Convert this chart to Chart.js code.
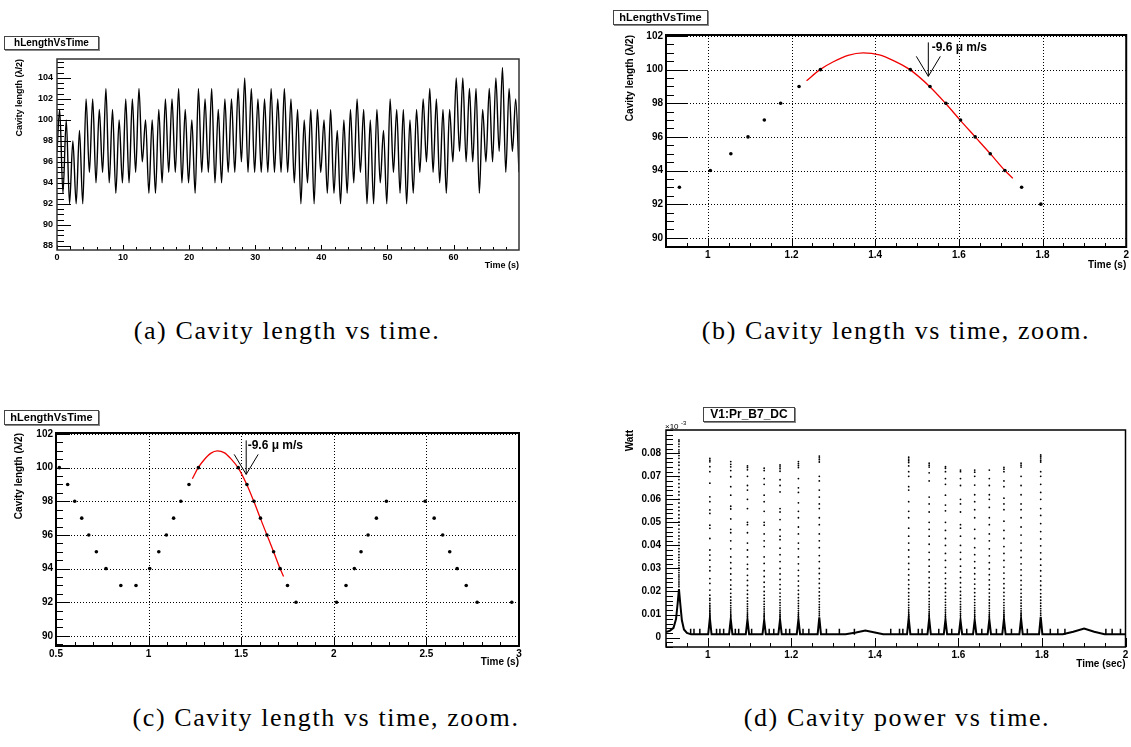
<!DOCTYPE html>
<html>
<head>
<meta charset="utf-8">
<script src="https://cdn.jsdelivr.net/npm/chart.js@4.4.1/dist/chart.umd.min.js"></script>
<style>
  html, body { margin: 0; padding: 0; background: #fff; overflow: hidden; width: 1131px; height: 747px; }
  canvas { position: absolute; }
  .tbox { position: absolute; box-sizing: border-box; border: 1px solid #444; box-shadow: 1px 1px 0 #888;
          background: #fff; color: #000; text-align: center; font-weight: bold;
          font-family: "Liberation Sans", Arial, sans-serif; z-index: 2; }
  .cap { position: absolute; width: 520px; margin-left: -260px; text-align: center; color: #000;
         font-family: "Liberation Serif", "Times New Roman", serif; font-size: 26px; letter-spacing: 1.6px;
         line-height: 30px; }
</style>
</head>
<body>
<canvas id="cA" width="560" height="250" style="left:0px;top:30px"></canvas>
<canvas id="cB" width="531" height="290" style="left:600px;top:0px"></canvas>
<canvas id="cC" width="560" height="290" style="left:0px;top:400px"></canvas>
<canvas id="cD" width="531" height="290" style="left:600px;top:400px"></canvas>

<div class="tbox" style="left:4px;top:36px;width:95px;height:14px;font-size:10px;line-height:12px">hLengthVsTime</div>
<div class="tbox" style="left:613px;top:10px;width:95px;height:15px;font-size:11px;line-height:13px">hLengthVsTime</div>
<div class="tbox" style="left:4px;top:410px;width:95px;height:15px;font-size:11px;line-height:13px">hLengthVsTime</div>
<div class="tbox" style="left:703px;top:407px;width:92px;height:15px;font-size:12px;line-height:13px">V1:Pr_B7_DC</div>

<div class="cap" style="left:287px;top:316px">(a) Cavity length vs time.</div>
<div class="cap" style="left:896px;top:316px">(b) Cavity length vs time, zoom.</div>
<div class="cap" style="left:326px;top:703px">(c) Cavity length vs time, zoom.</div>
<div class="cap" style="left:897px;top:703px">(d) Cavity power vs time.</div>

<script>
// (a) whole run: one fringe oscillation per second, peak then trough
const aStartTime = 0.0;
const aStartValue = 97;
const aFirstPeak = 0.4;
const aPeriod = 1.0;
const aPeaks = [
  101, 100, 98, 99, 102, 102, 101, 103, 101, 100,
  102, 102, 103, 100, 100, 101, 102, 102, 103, 101,
  100, 103, 102, 103, 101, 102, 102, 103, 104, 103,
  102, 102, 103, 102, 103, 102, 101, 100, 101, 101,
  100, 101, 99, 100, 101, 102, 101, 100, 101, 99,
  102, 101, 101, 100, 101, 102, 103, 102, 101, 101,
  104, 104, 103, 103, 101, 103, 104, 105, 103, 102
];
const aTroughs = [
  93, 92, 92, 92, 95, 94, 95, 94, 93, 94,
  94, 95, 96, 93, 93, 94, 95, 95, 94, 94,
  93, 95, 95, 94, 94, 95, 95, 96, 95, 95,
  95, 95, 95, 95, 95, 94, 92, 94, 92, 95,
  93, 93, 92, 93, 94, 95, 92, 92, 94, 92,
  95, 93, 92, 93, 95, 96, 95, 94, 93, 96,
  97, 96, 96, 93, 96, 96, 97, 95, 97, 95
];

// (b) and (c) zoom: measured fringe points
const lenTime = [0.518, 0.563, 0.601, 0.639, 0.677, 0.718, 0.770, 0.850, 0.932, 1.006,
  1.055, 1.096, 1.135, 1.174, 1.218, 1.269, 1.484, 1.531, 1.569, 1.604,
  1.639, 1.675, 1.710, 1.750, 1.796, 2.015, 2.066, 2.111, 2.147, 2.185,
  2.230, 2.284, 2.493, 2.542, 2.588, 2.626, 2.666, 2.715, 2.774, 2.961];
const lenValue = [100, 99, 98, 97, 96, 95, 94, 93, 93, 94,
  95, 96, 97, 98, 99, 100, 100, 99, 98, 97,
  96, 95, 94, 93, 92, 92, 93, 94, 95, 96,
  97, 98, 98, 97, 96, 95, 94, 93, 92, 92];

// red fit curve
const fitTime = [1.236, 1.268, 1.300, 1.335, 1.371, 1.410, 1.445, 1.483, 1.530, 1.568, 1.603, 1.639, 1.675, 1.710, 1.729];
const fitValue = [99.34, 100.0, 100.47, 100.85, 101.0, 100.88, 100.52, 100.0, 99.0, 98.0, 97.0, 96.0, 95.0, 94.0, 93.53];

const arrowTime = 1.527;
const arrowTip = 99.6;
const arrowTop = 101.62;
const arrowLabelTime = 1.535;
const arrowLabelValue = 101.3;
const arrowLabel = '-9.6 \u03bc m/s';

// (d) cavity power (units of the axis labels, x10^-3 W)
const dBaseTime = [0.900, 0.910, 0.918, 0.924, 0.928, 0.931, 0.934, 0.938, 0.943, 0.950, 0.960,
  1.001, 1.005, 1.009, 1.051, 1.055, 1.059, 1.091, 1.095, 1.099, 1.131, 1.135, 1.139,
  1.169, 1.173, 1.177, 1.213, 1.217, 1.221, 1.263, 1.267, 1.271,
  1.330, 1.355, 1.377, 1.400, 1.420,
  1.477, 1.481, 1.485, 1.526, 1.530, 1.534, 1.565, 1.569, 1.573, 1.601, 1.605, 1.609,
  1.635, 1.639, 1.643, 1.670, 1.674, 1.678, 1.705, 1.709, 1.713, 1.746, 1.750, 1.754,
  1.793, 1.797, 1.801, 1.850, 1.875, 1.901, 1.925, 1.950, 2.000];
const dBaseValue = [0.0024, 0.0030, 0.0042, 0.0080, 0.0150, 0.0210, 0.0150, 0.0075, 0.0035, 0.0020, 0.0014,
  0.0014, 0.0085, 0.0014, 0.0014, 0.0080, 0.0014, 0.0014, 0.0078, 0.0014, 0.0014, 0.0075, 0.0014,
  0.0014, 0.0078, 0.0014, 0.0014, 0.0080, 0.0014, 0.0014, 0.0088, 0.0014,
  0.0014, 0.0022, 0.0031, 0.0022, 0.0014,
  0.0014, 0.0085, 0.0014, 0.0014, 0.0082, 0.0014, 0.0014, 0.0078, 0.0014, 0.0014, 0.0076, 0.0014,
  0.0014, 0.0076, 0.0014, 0.0014, 0.0078, 0.0014, 0.0014, 0.0080, 0.0014, 0.0014, 0.0082, 0.0014,
  0.0014, 0.0090, 0.0014, 0.0014, 0.0025, 0.0039, 0.0025, 0.0014, 0.0014];
const dBlipTime = [0.959, 0.967, 0.981, 1.021, 1.029, 1.038, 1.066, 1.074, 1.105, 1.147, 1.158,
  1.187, 1.196, 1.228, 1.242, 1.284, 1.315, 1.351, 1.438, 1.459, 1.467, 1.504, 1.513,
  1.553, 1.584, 1.620, 1.656, 1.691, 1.727, 1.765, 1.820, 1.838, 1.855, 1.953, 1.968, 1.988];
const dBlipValue = 0.0025;
const dSpikeTime = [0.931, 1.005, 1.055, 1.095, 1.135, 1.173, 1.217, 1.267,
  1.481, 1.530, 1.569, 1.605, 1.639, 1.674, 1.709, 1.750, 1.797];
const dDots = [
  [0.0858, 0.0851, 0.0840, 0.0829, 0.0815, 0.0806, 0.0790, 0.0778, 0.0761, 0.0748, 0.0730, 0.0716, 0.0699, 0.0686,
   0.0668, 0.0652, 0.0633, 0.0619, 0.0600, 0.0584, 0.0566, 0.0551, 0.0533, 0.0518, 0.0502, 0.0488, 0.0471, 0.0457,
   0.0441, 0.0428, 0.0413, 0.0400, 0.0386, 0.0373, 0.0360, 0.0348, 0.0336, 0.0325, 0.0313, 0.0302, 0.0292, 0.0282,
   0.0272, 0.0263, 0.0254, 0.0245, 0.0237, 0.0229, 0.0221],
  [0.0778, 0.0770, 0.0763, 0.0742, 0.0720, 0.0670, 0.0611, 0.0590, 0.0554, 0.0539, 0.0488, 0.0474, 0.0430, 0.0380,
   0.0358, 0.0336, 0.0307, 0.0290, 0.0256, 0.0235, 0.0206, 0.0184, 0.0170, 0.0162, 0.0148, 0.0140, 0.0133, 0.0126,
   0.0119, 0.0112, 0.0104, 0.0097, 0.0090],
  [0.0764, 0.0752, 0.0741, 0.0725, 0.0698, 0.0655, 0.0618, 0.0570, 0.0558, 0.0515, 0.0470, 0.0455, 0.0420, 0.0385,
   0.0350, 0.0325, 0.0300, 0.0276, 0.0250, 0.0228, 0.0210, 0.0192, 0.0176, 0.0162, 0.0150, 0.0139, 0.0129, 0.0120,
   0.0111, 0.0102, 0.0094],
  [0.0745, 0.0738, 0.0728, 0.0700, 0.0660, 0.0640, 0.0600, 0.0560, 0.0500, 0.0490, 0.0455, 0.0410, 0.0380, 0.0350,
   0.0318, 0.0298, 0.0270, 0.0248, 0.0226, 0.0205, 0.0188, 0.0172, 0.0158, 0.0146, 0.0135, 0.0125, 0.0116, 0.0107,
   0.0099, 0.0092],
  [0.0735, 0.0725, 0.0690, 0.0665, 0.0618, 0.0590, 0.0548, 0.0500, 0.0488, 0.0450, 0.0420, 0.0395, 0.0350, 0.0322,
   0.0290, 0.0265, 0.0240, 0.0220, 0.0200, 0.0184, 0.0170, 0.0157, 0.0145, 0.0134, 0.0124, 0.0115, 0.0106, 0.0098,
   0.0091],
  [0.0749, 0.0741, 0.0733, 0.0722, 0.0685, 0.0660, 0.0632, 0.0560, 0.0545, 0.0512, 0.0468, 0.0440, 0.0425, 0.0388,
   0.0360, 0.0330, 0.0300, 0.0276, 0.0252, 0.0230, 0.0210, 0.0193, 0.0178, 0.0164, 0.0151, 0.0140, 0.0129, 0.0119,
   0.0110, 0.0101, 0.0093],
  [0.0764, 0.0755, 0.0746, 0.0738, 0.0690, 0.0650, 0.0630, 0.0585, 0.0548, 0.0520, 0.0480, 0.0450, 0.0410, 0.0385,
   0.0350, 0.0320, 0.0292, 0.0268, 0.0245, 0.0224, 0.0205, 0.0188, 0.0173, 0.0160, 0.0148, 0.0137, 0.0127, 0.0117,
   0.0108, 0.0100, 0.0092],
  [0.0788, 0.0780, 0.0772, 0.0762, 0.0700, 0.0680, 0.0640, 0.0610, 0.0580, 0.0560, 0.0520, 0.0490, 0.0450, 0.0420,
   0.0390, 0.0356, 0.0330, 0.0300, 0.0278, 0.0255, 0.0235, 0.0215, 0.0198, 0.0182, 0.0168, 0.0155, 0.0143, 0.0132,
   0.0122, 0.0112, 0.0103, 0.0095],
  [0.0783, 0.0775, 0.0768, 0.0760, 0.0745, 0.0720, 0.0700, 0.0655, 0.0640, 0.0590, 0.0548, 0.0520, 0.0475, 0.0440,
   0.0410, 0.0380, 0.0350, 0.0322, 0.0296, 0.0272, 0.0250, 0.0230, 0.0212, 0.0195, 0.0180, 0.0166, 0.0153, 0.0141,
   0.0130, 0.0120, 0.0110, 0.0101, 0.0093],
  [0.0757, 0.0748, 0.0740, 0.0715, 0.0680, 0.0610, 0.0580, 0.0545, 0.0500, 0.0470, 0.0440, 0.0405, 0.0370, 0.0338,
   0.0310, 0.0285, 0.0260, 0.0238, 0.0218, 0.0200, 0.0184, 0.0169, 0.0156, 0.0144, 0.0133, 0.0122, 0.0112, 0.0103,
   0.0095],
  [0.0742, 0.0735, 0.0720, 0.0690, 0.0665, 0.0618, 0.0575, 0.0550, 0.0500, 0.0465, 0.0430, 0.0400, 0.0365, 0.0335,
   0.0305, 0.0280, 0.0256, 0.0234, 0.0214, 0.0196, 0.0180, 0.0166, 0.0153, 0.0141, 0.0130, 0.0120, 0.0110, 0.0101,
   0.0093],
  [0.0727, 0.0720, 0.0690, 0.0660, 0.0600, 0.0580, 0.0545, 0.0490, 0.0475, 0.0440, 0.0400, 0.0370, 0.0340, 0.0310,
   0.0285, 0.0260, 0.0238, 0.0218, 0.0200, 0.0184, 0.0170, 0.0156, 0.0144, 0.0133, 0.0123, 0.0113, 0.0104, 0.0096],
  [0.0727, 0.0718, 0.0700, 0.0662, 0.0620, 0.0590, 0.0555, 0.0520, 0.0470, 0.0430, 0.0390, 0.0360, 0.0330, 0.0302,
   0.0277, 0.0254, 0.0232, 0.0212, 0.0195, 0.0179, 0.0165, 0.0152, 0.0140, 0.0129, 0.0119, 0.0110, 0.0101, 0.0093],
  [0.0727, 0.0690, 0.0660, 0.0620, 0.0600, 0.0565, 0.0520, 0.0490, 0.0450, 0.0420, 0.0385, 0.0355, 0.0325, 0.0298,
   0.0273, 0.0250, 0.0229, 0.0210, 0.0193, 0.0177, 0.0163, 0.0150, 0.0138, 0.0127, 0.0117, 0.0108, 0.0099, 0.0091],
  [0.0739, 0.0731, 0.0720, 0.0680, 0.0655, 0.0605, 0.0580, 0.0555, 0.0505, 0.0465, 0.0430, 0.0395, 0.0365, 0.0335,
   0.0306, 0.0280, 0.0256, 0.0234, 0.0214, 0.0196, 0.0180, 0.0165, 0.0152, 0.0140, 0.0129, 0.0119, 0.0110, 0.0101,
   0.0093],
  [0.0757, 0.0748, 0.0740, 0.0700, 0.0660, 0.0620, 0.0580, 0.0555, 0.0520, 0.0480, 0.0445, 0.0410, 0.0378, 0.0348,
   0.0320, 0.0294, 0.0270, 0.0248, 0.0228, 0.0209, 0.0192, 0.0176, 0.0162, 0.0149, 0.0137, 0.0126, 0.0116, 0.0106,
   0.0097],
  [0.0793, 0.0786, 0.0779, 0.0770, 0.0762, 0.0720, 0.0700, 0.0665, 0.0630, 0.0600, 0.0560, 0.0530, 0.0495, 0.0460,
   0.0428, 0.0398, 0.0368, 0.0340, 0.0314, 0.0290, 0.0267, 0.0246, 0.0226, 0.0208, 0.0191, 0.0176, 0.0162, 0.0149,
   0.0137, 0.0126, 0.0116, 0.0106, 0.0097]
];

// tick labels
const aXTicks = [0, 10, 20, 30, 40, 50, 60];
const aYTicks = [88, 90, 92, 94, 96, 98, 100, 102, 104];
const bXTicks = [1, 1.2, 1.4, 1.6, 1.8, 2];
const lenYTicks = [90, 92, 94, 96, 98, 100, 102];
const cXTicks = [0.5, 1, 1.5, 2, 2.5, 3];
const dYTicks = [0, 0.01, 0.02, 0.03, 0.04, 0.05, 0.06, 0.07, 0.08];

const FONT = '"Liberation Sans", Arial, sans-serif';
const cfgs = {};

function minorTicks(min, max, step) {
  const out = [];
  for (let i = Math.ceil(min / step - 1e-6); i * step <= max + 1e-9; i++) out.push(Math.round(i * step * 1e6) / 1e6);
  return out;
}

// ROOT style frame: ticks inside, optional dotted grid, extra labels
const rootAxes = {
  id: 'rootAxes',
  beforeDatasetsDraw(chart) {
    const c = cfgs[chart.canvas.id];
    if (!c.grid) return;
    const { ctx, chartArea: a, scales: { x, y } } = chart;
    ctx.save();
    ctx.strokeStyle = '#000';
    ctx.lineWidth = 1;
    ctx.setLineDash([1, 2]);
    ctx.beginPath();
    c.xTicks.forEach(v => {
      const px = Math.round(x.getPixelForValue(v)) + 0.5;
      if (px > a.left + 2 && px < a.right - 2) { ctx.moveTo(px, a.top); ctx.lineTo(px, a.bottom); }
    });
    c.yTicks.forEach(v => {
      const py = Math.round(y.getPixelForValue(v)) + 0.5;
      if (py > a.top + 1 && py < a.bottom - 2) { ctx.moveTo(a.left, py); ctx.lineTo(a.right, py); }
    });
    ctx.stroke();
    ctx.restore();
  },
  afterDatasetsDraw(chart) {
    const c = cfgs[chart.canvas.id];
    const { ctx, chartArea: a, scales: { x, y } } = chart;
    ctx.save();
    ctx.strokeStyle = '#000';
    ctx.fillStyle = '#000';
    ctx.lineWidth = 1;
    ctx.beginPath();
    minorTicks(c.xMin, c.xMax, c.xMinor).forEach(v => {
      const px = Math.round(x.getPixelForValue(v)) + 0.5;
      ctx.moveTo(px, a.bottom); ctx.lineTo(px, a.bottom - c.xTickLen[1]);
    });
    c.xTicks.forEach(v => {
      const px = Math.round(x.getPixelForValue(v)) + 0.5;
      ctx.moveTo(px, a.bottom); ctx.lineTo(px, a.bottom - c.xTickLen[0]);
    });
    minorTicks(c.yMin, c.yMax, c.yMinor).forEach(v => {
      const py = Math.round(y.getPixelForValue(v)) + 0.5;
      ctx.moveTo(a.left, py); ctx.lineTo(a.left + c.yTickLen[1], py);
    });
    c.yTicks.forEach(v => {
      const py = Math.round(y.getPixelForValue(v)) + 0.5;
      ctx.moveTo(a.left, py); ctx.lineTo(a.left + c.yTickLen[0], py);
    });
    ctx.stroke();

    ctx.strokeStyle = c.frameColor;
    ctx.lineWidth = c.frameWidth;
    ctx.strokeRect(a.left, a.top, a.right - a.left, a.bottom - a.top);

    if (c.arrow) {
      const px = x.getPixelForValue(arrowTime);
      const tipY = y.getPixelForValue(arrowTip);
      const topY = y.getPixelForValue(arrowTop);
      ctx.strokeStyle = '#000';
      ctx.lineWidth = 1;
      ctx.beginPath();
      ctx.moveTo(px, topY); ctx.lineTo(px, tipY);
      ctx.moveTo(px - 12, tipY - 20); ctx.lineTo(px, tipY); ctx.lineTo(px + 12, tipY - 20);
      ctx.stroke();
      ctx.font = 'bold 12px ' + FONT;
      ctx.textBaseline = 'middle';
      ctx.textAlign = 'left';
      ctx.fillText(arrowLabel, x.getPixelForValue(arrowLabelTime), y.getPixelForValue(arrowLabelValue));
    }
    if (c.exponent) {
      ctx.textBaseline = 'alphabetic';
      ctx.textAlign = 'left';
      ctx.font = '8px ' + FONT;
      ctx.fillText('\u00d710', a.left - 1, a.top - 1);
      ctx.font = '6px ' + FONT;
      ctx.fillText('-3', a.left + 15, a.top - 5);
    }
    ctx.restore();
  }
};

function fmt(v) { return String(parseFloat(Number(v).toFixed(3))); }

function panel(id, c) {
  cfgs[id] = c;
  const f = { family: FONT, size: c.fontSize, weight: 'bold' };
  return new Chart(document.getElementById(id), {
    type: 'scatter',
    data: { datasets: c.datasets },
    plugins: [rootAxes],
    options: {
      responsive: false,
      animation: false,
      devicePixelRatio: 1,
      layout: { padding: { left: 0, top: c.padTop, right: c.padRight, bottom: 0 } },
      plugins: { legend: { display: false }, tooltip: { enabled: false } },
      scales: {
        x: {
          type: 'linear', min: c.xMin, max: c.xMax,
          afterBuildTicks: s => { s.ticks = c.xTicks.map(v => ({ value: v })); },
          afterFit: s => { s.height = c.xHeight; },
          grid: { display: false, drawTicks: false },
          border: { display: false },
          ticks: { autoSkip: false, maxRotation: 0, padding: 2, color: '#000', font: f, callback: fmt },
          title: { display: true, text: c.xTitle, align: 'end', color: '#000', font: f,
                   padding: { top: 0, bottom: c.xTitlePad } }
        },
        y: {
          type: 'linear', min: c.yMin, max: c.yMax,
          afterBuildTicks: s => { s.ticks = c.yTicks.map(v => ({ value: v })); },
          afterFit: s => { s.width = c.yWidth; },
          grid: { display: false, drawTicks: false },
          border: { display: false },
          ticks: { autoSkip: false, padding: c.yLabelPad, color: '#000', font: f, callback: fmt },
          title: { display: true, text: c.yTitle, align: 'end', color: '#000', font: f,
                   padding: { top: c.yTitlePad, bottom: 0 } }
        }
      }
    }
  });
}

// datasets
const aPoints = [{ x: aStartTime, y: aStartValue }];
aPeaks.forEach((v, k) => {
  aPoints.push({ x: aFirstPeak + k * aPeriod, y: v });
  aPoints.push({ x: aFirstPeak + k * aPeriod + aPeriod / 2, y: aTroughs[k] });
});
const lenPoints = lenTime.map((t, i) => ({ x: t, y: lenValue[i] }));
const fitPoints = fitTime.map((t, i) => ({ x: t, y: fitValue[i] }));

function lenDatasets() {
  return [
    { data: lenPoints, pointRadius: 1.8, pointBackgroundColor: '#000', pointBorderWidth: 0, showLine: false },
    { data: fitPoints, showLine: true, borderColor: '#f00000', borderWidth: 1.3, pointRadius: 0,
      cubicInterpolationMode: 'monotone' }
  ];
}

panel('cA', {
  datasets: [{ data: aPoints, showLine: true, borderColor: '#000', borderWidth: 1.4, pointRadius: 0,
               cubicInterpolationMode: 'monotone' }],
  xMin: 0, xMax: 69.9, yMin: 87.6, yMax: 105.8,
  xTicks: aXTicks, yTicks: aYTicks, xMinor: 2, yMinor: 0.5,
  xTickLen: [5, 3], yTickLen: [14, 7],
  grid: false, frameWidth: 1.5, frameColor: '#333', fontSize: 9,
  padTop: 29, padRight: 41, yWidth: 57, xHeight: 30, xTitlePad: 8.6, yTitlePad: 14.6, yLabelPad: 4,
  xTitle: 'Time (s)', yTitle: 'Cavity length (\u03bb/2)'
});

panel('cB', {
  datasets: lenDatasets(),
  xMin: 0.9, xMax: 2.0, yMin: 89.45, yMax: 102.06,
  xTicks: bXTicks, yTicks: lenYTicks, xMinor: 0.05, yMinor: 0.5,
  xTickLen: [8, 4], yTickLen: [21, 8],
  grid: true, arrow: true, frameWidth: 2, frameColor: '#000', fontSize: 10,
  padTop: 35, padRight: 3, yWidth: 66, xHeight: 43, xTitlePad: 19, yTitlePad: 24, yLabelPad: 3,
  xTitle: 'Time (s)', yTitle: 'Cavity length (\u03bb/2)'
});

panel('cC', {
  datasets: lenDatasets(),
  xMin: 0.5, xMax: 3.0, yMin: 89.4, yMax: 102.06,
  xTicks: cXTicks, yTicks: lenYTicks, xMinor: 0.1, yMinor: 0.5,
  xTickLen: [9, 4], yTickLen: [14, 7],
  grid: true, arrow: true, frameWidth: 2, frameColor: '#000', fontSize: 10,
  padTop: 33, padRight: 41, yWidth: 56, xHeight: 44, xTitlePad: 21.3, yTitlePad: 13, yLabelPad: 3,
  xTitle: 'Time (s)', yTitle: 'Cavity length (\u03bb/2)'
});

const dBasePoints = dBaseTime.map((t, i) => ({ x: t, y: dBaseValue[i] }));
const dBlipPoints = dBlipTime.map(t => ({ x: t, y: dBlipValue }));
const dDotPoints = [];
dDots.forEach((col, i) => col.forEach(v => dDotPoints.push({ x: dSpikeTime[i], y: v })));

panel('cD', {
  datasets: [
    { data: dDotPoints, pointRadius: 0.9, pointBackgroundColor: '#000', pointBorderWidth: 0, showLine: false },
    { data: dBlipPoints, pointStyle: 'line', rotation: 90, pointRadius: 3, pointBorderColor: '#000',
      pointBorderWidth: 1.5, showLine: false },
    { data: dBasePoints, showLine: true, borderColor: '#000', borderWidth: 2, pointRadius: 0, tension: 0 }
  ],
  xMin: 0.9, xMax: 2.0, yMin: -0.0041, yMax: 0.0901,
  xTicks: bXTicks, yTicks: dYTicks, xMinor: 0.05, yMinor: 0.002,
  xTickLen: [9, 4], yTickLen: [14, 7],
  grid: false, exponent: true, frameWidth: 1.5, frameColor: '#000', fontSize: 10,
  padTop: 30, padRight: 3, yWidth: 66, xHeight: 43, xTitlePad: 20, yTitlePad: 24, yLabelPad: 5,
  xTitle: 'Time (sec)', yTitle: 'Watt'
});
</script>
</body>
</html>
